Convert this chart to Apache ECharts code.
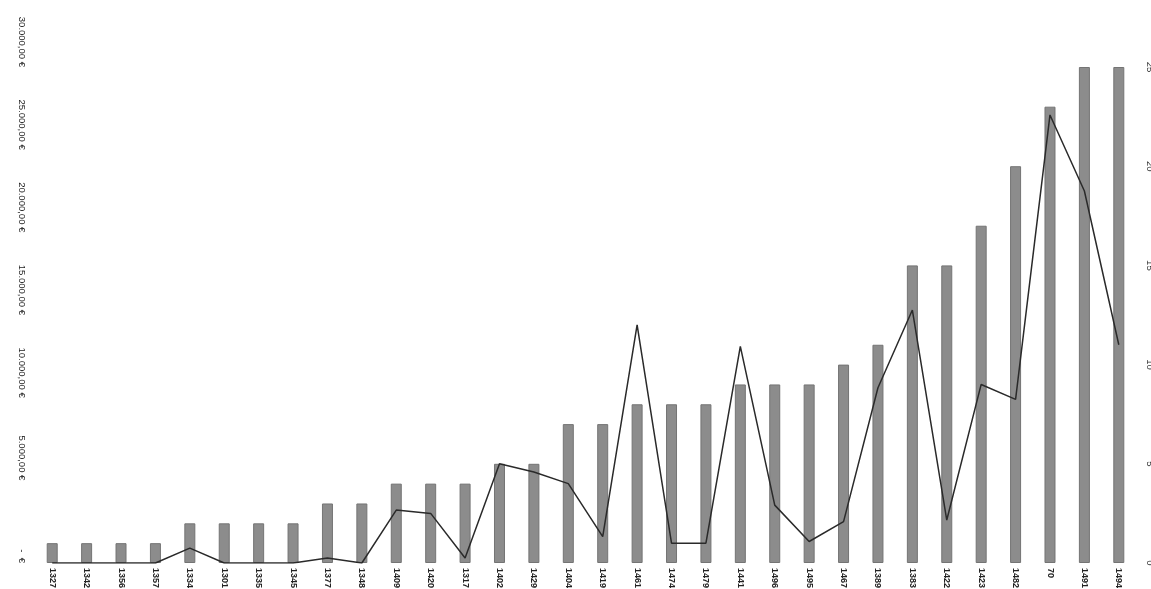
<!DOCTYPE html>
<html>
<head>
<meta charset="utf-8">
<script src="https://cdn.jsdelivr.net/npm/echarts@6/dist/echarts.min.js"></script>
<style>
html,body{margin:0;padding:0;background:#fff;}
#c{width:1151px;height:589px;}
</style>
</head>
<body>
<div id="c"></div>
<script>
var categories = ["1327","1342","1356","1357","1334","1301","1335","1345","1377","1348","1409","1420","1317","1402","1429","1404","1419","1461","1474","1479","1441","1496","1495","1467","1389","1383","1422","1423","1482","70","1491","1494"];
var countValues = [1,1,1,1,2,2,2,2,3,3,4,4,4,5,5,7,7,8,8,8,9,9,9,10,11,15,15,17,20,23,25,25];
var euroValues = [0,0,0,0,900,0,0,0,300,0,3200,3000,300,6000,5500,4800,1600,14400,1200,1200,13100,3500,1300,2500,10600,15300,2600,10800,9900,27100,22500,13200];
var leftTicks = {min:0, max:30000, step:5000};
var rightTicks = {min:0, max:25, step:5};

function fmtEuro(v){
  if(v===0) return '-  €';
  var s = String(Math.round(v)).replace(/\B(?=(\d{3})+(?!\d))/g,'.');
  return s + ',00 €';
}

var chart = echarts.init(document.getElementById('c'));
chart.setOption({
  animation:false,
  backgroundColor:'#ffffff',
  grid:{left:35,right:15,top:67,bottom:26,containLabel:false,outerBoundsMode:'none'},
  xAxis:{
    type:'category',
    data:categories,
    axisLine:{show:false},
    axisTick:{show:false},
    axisLabel:{rotate:-90,fontSize:9,fontWeight:'bold',color:'#222',margin:5,fontFamily:'Liberation Sans',interval:0}
  },
  yAxis:[
    {
      type:'value',
      min:leftTicks.min,max:leftTicks.max,interval:leftTicks.step,
      axisLine:{show:false},axisTick:{show:false},splitLine:{show:false},
      axisLabel:{rotate:-90,fontSize:9.5,color:'#222',margin:8,fontFamily:'Liberation Sans',
        align:'right',verticalAlign:'top',formatter:fmtEuro}
    },
    {
      type:'value',
      min:rightTicks.min,max:rightTicks.max,interval:rightTicks.step,
      position:'right',
      axisLine:{show:false},axisTick:{show:false},splitLine:{show:false},
      axisLabel:{rotate:-90,fontSize:9.5,color:'#333',margin:9,fontFamily:'Liberation Sans',
        align:'center',verticalAlign:'bottom'}
    }
  ],
  series:[
    {
      type:'bar',
      yAxisIndex:1,
      data:countValues,
      barWidth:11,
      itemStyle:{color:'#8c8c8c',borderColor:'#747474',borderWidth:1}
    },
    {
      type:'line',
      yAxisIndex:0,
      data:euroValues,
      symbol:'none',
      lineStyle:{color:'#2a2a2a',width:1.5},
      z:5
    }
  ]
});
</script>
</body>
</html>
